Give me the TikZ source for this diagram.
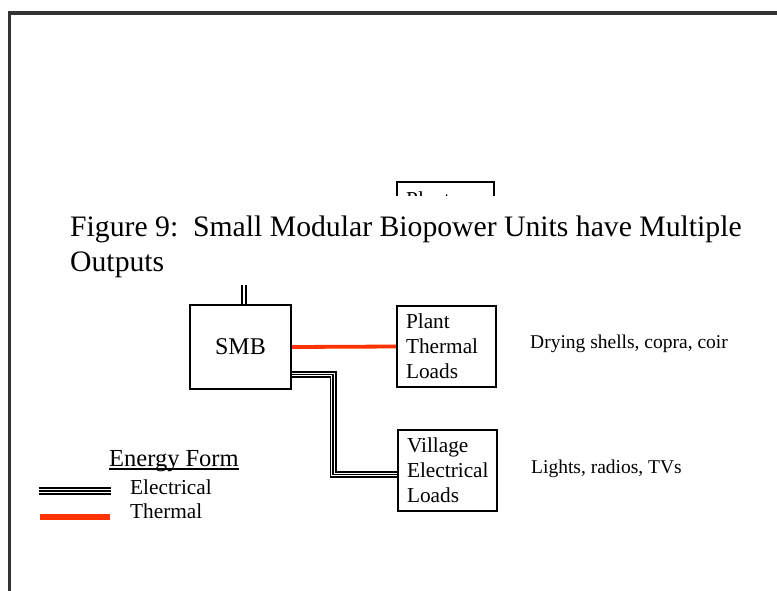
\documentclass[tikz,border=0pt]{standalone}
\usepackage{fontspec}
\setmainfont{Liberation Serif}
\definecolor{thermred}{HTML}{FF3300}
\definecolor{framegray}{HTML}{333333}
\begin{document}
\begin{tikzpicture}[x=1pt,y=-1pt,
  frameline/.style={draw=framegray, line width=3.5, line join=miter},
  loadbox/.style={draw, line width=2.4, rectangle, minimum width=99, minimum height=81,
    text width=81, inner xsep=9, inner ysep=0, align=left,
    font=\fontsize{21.3}{25}\selectfont},
  smbbox/.style={draw, line width=2.4, rectangle, minimum width=101, minimum height=84,
    font=\fontsize{24}{28}\selectfont},
  elec/.style={draw=black, line width=7,
    postaction={draw=white, line width=3.6},
    postaction={draw=black, line width=1.6}},
  elecleg/.style={draw=black, line width=8,
    postaction={draw=white, line width=4.2},
    postaction={draw=black, line width=2}},
  dbl/.style={draw=black, line width=5.5, postaction={draw=white, line width=1.5}},
  thermal/.style={draw=thermred, line width=3.8},
  thermleg/.style={draw=thermred, line width=5.7},
  txt/.style={inner sep=0, anchor=base west},
  note/.style={txt, font=\fontsize{19.5}{23}\selectfont},
  legtxt/.style={txt, font=\fontsize{21.3}{25}\selectfont},
  titletxt/.style={txt, font=\fontsize{29.7}{35}\selectfont}
]
\useasboundingbox (0,0) rectangle (777,590);
\fill[white] (0,0) rectangle (777,590);
% frame
\draw[frameline] (9.5,600) -- (9.5,13) -- (790,13);

% partly hidden box at top
\node[loadbox, anchor=north west, minimum width=97, text width=79] (topbox) at (396,181) {};
\node[txt, font=\fontsize{21.3}{25}\selectfont] (toplabel) at (406,206) {Plant};

% main boxes
\node[smbbox] (SMB) at (240.5,347) {SMB};
\node[loadbox] (Plant) at (446.5,346.5) {Plant\\Thermal\\Loads};
\node[loadbox] (Village) at (447.5,470.5) {Village\\Electrical\\Loads};

% connector up from SMB (hidden by title area)
\coordinate (up) at (244.2,260);
\draw[dbl] (SMB.north -| up) -- (up);

% white title area
\fill[white] (20,196) rectangle (770,285);
\node[titletxt] (title1) at (70,236) {Figure 9:\ \ Small Modular Biopower Units have Multiple};
\node[titletxt] (title2) at (70,271) {Outputs};

% connectors
\draw[thermal] (SMB.east) -- (Plant.west);
\coordinate (bend1) at (333,374.5);
\coordinate (bend2) at (333,474.5);
\draw[elec] (SMB.east |- bend1) -- (bend1) -- (bend2) -- (Village.west |- bend2);

% notes
\node[note] (n1) at (530,348) {Drying shells, copra, coir};
\node[note] (n2) at (531,473) {Lights, radios, TVs};

% legend
\node[txt, font=\fontsize{24.5}{28}\selectfont] (EF) at (109,466) {Energy Form};
\draw[line width=1.3] ([yshift=-3pt]EF.base west) -- ([yshift=-3pt]EF.base east);
\coordinate (le1) at (39,490.7);
\coordinate (le2) at (110.7,490.7);
\draw[elecleg] (le1) -- (le2);
\node[legtxt] (lelec) at (130,494) {Electrical};
\coordinate (lt1) at (40,517);
\coordinate (lt2) at (110,517);
\draw[thermleg] (lt1) -- (lt2);
\node[legtxt] (ltherm) at (130,518) {Thermal};
\end{tikzpicture}
\end{document}
